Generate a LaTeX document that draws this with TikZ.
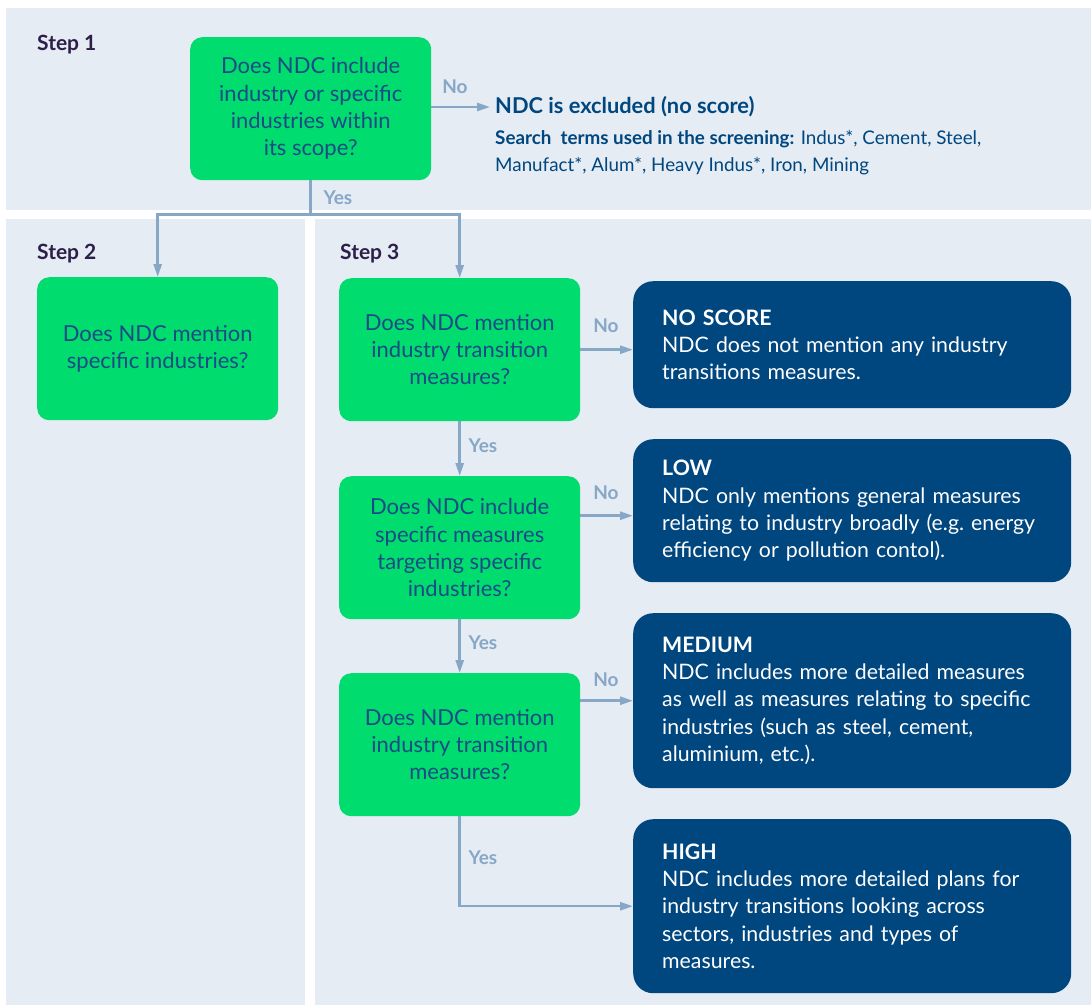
\documentclass[tikz,border=0pt]{standalone}
\usepackage{fontspec}
\setmainfont{Lato}
\usetikzlibrary{arrows.meta, positioning, calc}
\definecolor{panelbg}{HTML}{E5ECF3}
\definecolor{qgreen}{HTML}{00DC6E}
\definecolor{qnavy}{HTML}{00467F}
\definecolor{qtext}{HTML}{1B4A86}
\definecolor{qarrow}{HTML}{87A7C7}
\definecolor{qstep}{HTML}{2E1F4A}

\begin{document}
\begin{tikzpicture}[x=1pt, y=-1pt,
    question/.style={fill=qgreen, rounded corners=12pt, minimum width=241pt, minimum height=143pt,
        inner sep=0pt, align=center, text=qtext, font=\fontsize{22}{27.3}\selectfont, anchor=north west},
    result/.style={fill=qnavy, rounded corners=20pt, minimum width=438pt, inner xsep=29pt,
        text width=380pt, align=left, text=white, font=\fontsize{21.3}{27.3}\selectfont, anchor=north west},
    steplabel/.style={anchor=base west, inner sep=0pt, text=qstep, font=\bfseries\fontsize{21}{24}\selectfont},
    answer/.style={text=qarrow, font=\bfseries\fontsize{19}{22}\selectfont},
    line/.style={draw=qarrow, line width=2.5pt},
    flow/.style={line, -{Triangle[length=13pt, width=8pt]}}
]
    % Canvas
    \fill[white] (0,0) rectangle (1091,1005);
    \useasboundingbox (0,0) rectangle (1091,1005);

    % Panels
    \fill[panelbg] (6,8) rectangle (1091,210);
    \fill[panelbg] (6,219) rectangle (305,1005);
    \fill[panelbg] (315,219) rectangle (1091,1005);

    % Steps
    \node[steplabel] (step1) at (37,50) {Step 1};
    \node[steplabel] (step2) at (37,259) {Step 2};
    \node[steplabel] (step3) at (340,259) {Step 3};

    % Questions
    \node[question] (q1) at (190,37) {Does NDC include\\industry or specific\\industries within\\its scope?};
    \node[question] (q2) at (37,277) {Does NDC mention\\specific industries?};
    \node[question] (qa) at (339,278) {Does NDC mention\\industry transition\\measures?};
    \node[question] (qb) at (339,476) {Does NDC include\\specific measures\\targeting specific\\industries?};
    \node[question] (qc) at (339,673) {Does NDC mention\\industry transition\\measures?};

    % Exclusion
    \node[anchor=west, inner xsep=5pt, text=qnavy, font=\bfseries\fontsize{21.8}{24}\selectfont] (excl) at (490,107) {NDC is excluded (no score)};
    \node[anchor=base west, inner sep=0pt, align=left, text=qnavy, font=\fontsize{18.8}{27}\selectfont] (terms) at (495,171)
        {\textbf{Search\ \ terms used in the screening:} Indus*, Cement, Steel,\\Manufact*, Alum*, Heavy Indus*, Iron, Mining};

    % Results
    \node[result, minimum height=127pt] (noscore) at (633,281) {\textbf{NO SCORE}\\NDC does not mention any industry\\transitions measures.};
    \node[result, minimum height=143pt] (low) at (633,439) {\textbf{LOW}\\NDC only mentions general measures\\relating to industry broadly (e.g.\ energy\\efficiency or pollution contol).};
    \node[result, minimum height=175pt] (medium) at (633,613) {\textbf{MEDIUM}\\NDC includes more detailed measures\\as well as measures relating to specific\\industries (such as steel, cement,\\aluminium, etc.).};
    \node[result, minimum height=174pt] (high) at (633,819) {\textbf{HIGH}\\NDC includes more detailed plans for\\industry transitions looking across\\sectors, industries and types of\\measures.};

    % Connectors
    \draw[flow] (q1.east |- excl) -- (excl.west);
    \coordinate (split) at ($(q1.south)+(0,34)$);
    \draw[line] (q1.south) -- (split);
    \draw[flow] (split) -| (q2.north);
    \draw[flow] (split) -| (qa.north);
    \draw[flow] (qa.east) -- (qa.east -| noscore.west);
    \coordinate (lowin) at ($(low.west)+(0,5)$);
    \draw[flow] (qb.east |- lowin) -- (lowin);
    \draw[flow] (qc.east |- medium) -- (medium.west);
    \draw[flow] (qa.south) -- (qb.north);
    \draw[flow] (qb.south) -- (qc.north);
    \draw[flow] (qc.south) |- (high.west);

    % Answers
    \node[answer] (no1) at (455,87) {No};
    \node[answer] (yes1) at (338,198) {Yes};
    \node[answer] (noa) at (606,326) {No};
    \node[answer] (yesa) at (483,446) {Yes};
    \node[answer] (nob) at (606,493) {No};
    \node[answer] (yesb) at (483,643) {Yes};
    \node[answer] (noc) at (606,680) {No};
    \node[answer] (yesc) at (483,858) {Yes};
\end{tikzpicture}
\end{document}
